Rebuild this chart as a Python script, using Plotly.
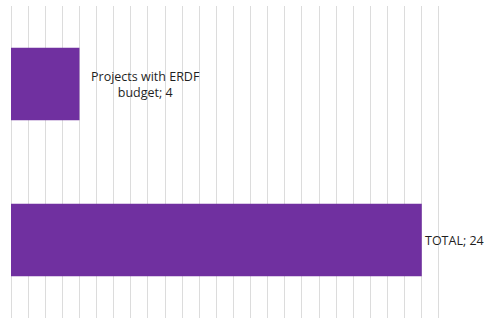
import plotly.graph_objects as go

categories = ["Projects with ERDF budget", "TOTAL"]
label_texts = ["Projects with ERDF<br>budget; 4", "TOTAL; 24"]
values = [4, 24]
x_max = 26

fig = go.Figure()
fig.add_trace(go.Bar(
    x=values, y=categories, orientation="h",
    marker=dict(color="#7030A0", line=dict(width=0)),
    width=0.465, hoverinfo="skip",
))
for cat, lab, v in zip(categories, label_texts, values):
    fig.add_annotation(
        x=v, y=cat, text=lab,
        showarrow=False, xanchor="left", yanchor="middle", align="center",
        xshift=10 if v < 10 else 1,
        font=dict(family="Open Sans, Liberation Sans, sans-serif", size=12.5, color="#1f1f1f"),
    )

fig.update_xaxes(range=[0, x_max], dtick=1, showgrid=True, gridcolor="#dcdcdc", gridwidth=1,
                 showticklabels=False, zeroline=True, zerolinecolor="#dcdcdc", zerolinewidth=1,
                 showline=False, ticks="", automargin=False)
fig.update_yaxes(autorange="reversed", showticklabels=False, showgrid=False, ticks="",
                 showline=False, automargin=False)
fig.update_layout(
    width=484, height=320, plot_bgcolor="white", paper_bgcolor="white",
    margin=dict(l=11, r=28, t=6, b=2), showlegend=False,
)
fig.write_html("out.html", config={"displayModeBar": False},
               post_script="document.body.style.margin='0';")
